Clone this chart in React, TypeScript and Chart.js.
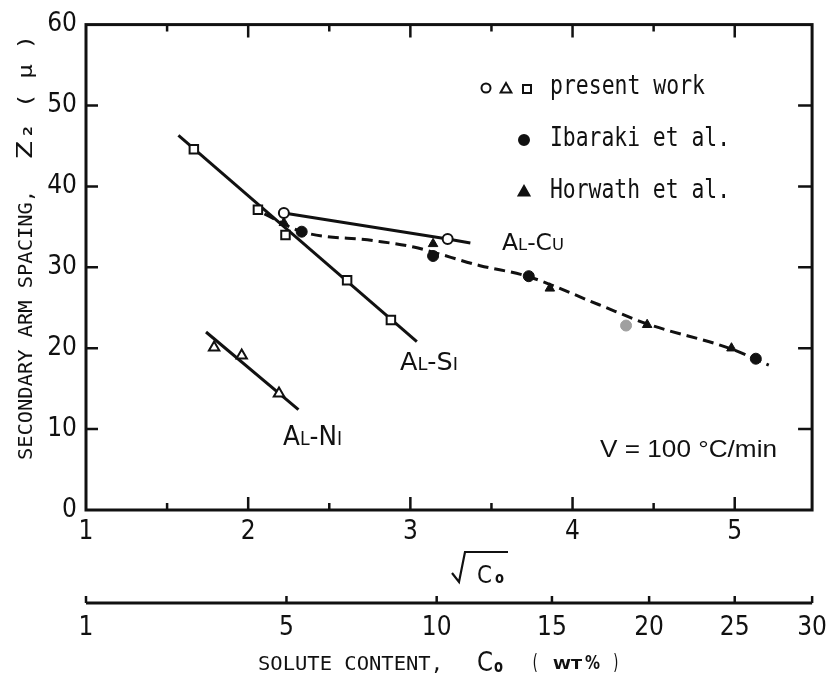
import React, { useEffect, useRef } from "react";
import { Chart, registerables } from "chart.js";
Chart.register(...registerables);

const NARROW = '"Liberation Sans Narrow", "DejaVu Sans Condensed", "Arial Narrow", sans-serif';
const MONO = '"DejaVu Sans Mono", "Liberation Mono", monospace';
const SANS = '"Liberation Sans", Arial, sans-serif';
const INK = "#111111";

// ---- axis ticks ----
const xLabelTicks = [1, 2, 3, 4, 5];
const xMinorTicks = [1.5, 2.5, 3.5, 4.5];
const yTicks = [0, 10, 20, 30, 40, 50, 60];
const c0Ticks = [1, 5, 10, 15, 20, 25, 30];
const X_MIN = 1;
const X_MAX = 5.477; // sqrt(30)

// ---- present work ----
const alSiX = [1.665, 2.06, 2.23, 2.61, 2.88];
const alSiY = [44.6, 37.1, 34.0, 28.4, 23.5];
const alSiLineX = [1.57, 3.04];
const alSiLineY = [46.3, 20.8];

const alCuX = [2.22, 3.23];
const alCuY = [36.7, 33.5];
const alCuLineX = [2.22, 3.23, 3.37];
const alCuLineY = [36.7, 33.5, 33.0];

const alNiX = [1.79, 1.96, 2.19];
const alNiY = [20.1, 19.1, 14.4];
const alNiLineX = [1.74, 2.31];
const alNiLineY = [22.0, 12.4];

// ---- literature ----
const ibarakiX = [2.33, 3.14, 3.73, 4.33, 5.13];
const ibarakiY = [34.4, 31.4, 28.9, 22.8, 18.7];
const ibarakiShade = ["#111111", "#111111", "#111111", "#a0a0a0", "#111111"];
const horwathX = [2.22, 3.14, 3.86, 4.46, 4.98];
const horwathY = [35.5, 32.9, 27.4, 22.9, 20.0];
const litLineX = [2.1, 2.33, 2.77, 3.02, 3.43, 3.72, 4.16, 4.46, 4.98, 5.21];
const litLineY = [36.6, 34.4, 33.3, 32.5, 30.2, 28.9, 25.4, 23.0, 19.9, 17.9];

function pts(xs: number[], ys: number[]) {
  return xs.map((x, i) => ({ x, y: ys[i] }));
}

type Seg = { t: string; s: number; dy?: number };

function drawSegs(ctx: CanvasRenderingContext2D, segs: Seg[], family: string, size: number, x: number, y: number, width: number, weight = "normal") {
  ctx.save();
  ctx.textBaseline = "alphabetic";
  ctx.textAlign = "left";
  let total = 0;
  const ws: number[] = [];
  for (const g of segs) {
    ctx.font = `${weight} ${size * g.s}px ${family}`;
    const w = ctx.measureText(g.t).width;
    ws.push(w);
    total += w;
  }
  const sx = width / total;
  ctx.translate(x, y);
  ctx.scale(sx, 1);
  let cx = 0;
  segs.forEach((g, i) => {
    ctx.font = `${weight} ${size * g.s}px ${family}`;
    ctx.fillText(g.t, cx, g.dy || 0);
    cx += ws[i];
  });
  ctx.restore();
}

function drawFit(ctx: CanvasRenderingContext2D, text: string, x: number, y: number, font: string, width: number) {
  ctx.save();
  ctx.font = font;
  ctx.textBaseline = "alphabetic";
  ctx.textAlign = "left";
  const w = ctx.measureText(text).width;
  ctx.translate(x, y);
  ctx.scale(width / w, 1);
  ctx.fillText(text, 0, 0);
  ctx.restore();
}

function marker(ctx: CanvasRenderingContext2D, kind: string, x: number, y: number, r: number, filled: boolean) {
  ctx.save();
  ctx.lineWidth = 2;
  ctx.strokeStyle = INK;
  ctx.fillStyle = filled ? INK : "#ffffff";
  ctx.beginPath();
  if (kind === "circle") {
    ctx.arc(x, y, r, 0, Math.PI * 2);
  } else if (kind === "triangle") {
    ctx.moveTo(x, y - r);
    ctx.lineTo(x + r * 0.9, y + r * 0.6);
    ctx.lineTo(x - r * 0.9, y + r * 0.6);
    ctx.closePath();
  } else {
    ctx.rect(x - r, y - r, 2 * r, 2 * r);
  }
  ctx.fill();
  ctx.stroke();
  ctx.restore();
}

const decorations = {
  id: "decorations",
  afterDraw(chart: any) {
    const { ctx, chartArea: a, scales } = chart;
    const xs = scales.x;
    const ys = scales.y;
    const cs = scales.c0;
    ctx.save();
    ctx.strokeStyle = INK;
    ctx.fillStyle = INK;
    ctx.lineCap = "butt";

    // frame
    ctx.lineWidth = 3;
    ctx.strokeRect(a.left, a.top, a.right - a.left, a.bottom - a.top);

    // inward ticks
    ctx.lineWidth = 2.5;
    ctx.beginPath();
    for (const v of xLabelTicks) {
      const px = xs.getPixelForValue(v);
      if (Math.abs(px - a.left) < 2) continue;
      ctx.moveTo(px, a.bottom); ctx.lineTo(px, a.bottom - 13);
      ctx.moveTo(px, a.top); ctx.lineTo(px, a.top + 13);
    }
    for (const v of xMinorTicks) {
      const px = xs.getPixelForValue(v);
      ctx.moveTo(px, a.bottom); ctx.lineTo(px, a.bottom - 7);
      ctx.moveTo(px, a.top); ctx.lineTo(px, a.top + 7);
    }
    for (const v of yTicks) {
      if (v === 0 || v === 60) continue;
      const py = ys.getPixelForValue(v);
      ctx.moveTo(a.left, py); ctx.lineTo(a.left + 12, py);
      ctx.moveTo(a.right, py); ctx.lineTo(a.right - 14, py);
    }
    ctx.stroke();

    // C0 axis
    const cy = cs.top;
    ctx.lineWidth = 3;
    ctx.beginPath();
    ctx.moveTo(cs.getPixelForValue(Math.sqrt(c0Ticks[0])), cy);
    ctx.lineTo(cs.getPixelForValue(Math.sqrt(c0Ticks[c0Ticks.length - 1])), cy);
    ctx.stroke();
    ctx.lineWidth = 2.5;
    ctx.beginPath();
    for (const c of c0Ticks) {
      const px = cs.getPixelForValue(Math.sqrt(c));
      ctx.moveTo(px, cy); ctx.lineTo(px, cy - 7);
    }
    ctx.stroke();

    // sqrt(C0) title
    ctx.lineWidth = 2.2;
    ctx.beginPath();
    ctx.moveTo(452, 573);
    ctx.lineTo(459, 582);
    ctx.lineTo(465, 552);
    ctx.lineTo(508, 552);
    ctx.stroke();
    drawFit(ctx, "C", 477, 583, `normal 24px ${NARROW}`, 15);
    drawFit(ctx, "o", 495, 583, `bold 16px ${NARROW}`, 9);

    // bottom title
    drawFit(ctx, "SOLUTE CONTENT,", 258, 670, `normal 20px ${MONO}`, 185);
    drawFit(ctx, "C", 477, 671, `normal 27px ${NARROW}`, 16);
    drawFit(ctx, "o", 494, 672, `bold 17px ${NARROW}`, 9);
    drawFit(ctx, "(", 531, 669, `normal 22px ${MONO}`, 8);
    drawFit(ctx, "WT", 553, 669, `bold 14px ${NARROW}`, 29);
    drawFit(ctx, "%", 585, 669, `bold 20px ${NARROW}`, 15);
    drawFit(ctx, ")", 612, 669, `normal 22px ${MONO}`, 8);

    // y title (rotated)
    ctx.save();
    ctx.translate(32, 460);
    ctx.rotate(-Math.PI / 2);
    drawFit(ctx, "SECONDARY ARM SPACING,", 0, 0, `normal 20px ${MONO}`, 270);
    drawFit(ctx, "Z", 300, 0, `normal 22px ${MONO}`, 19);
    drawFit(ctx, "2", 324, 0, `bold 13px ${MONO}`, 10);
    drawFit(ctx, "( μ )", 352, 0, `normal 20px ${MONO}`, 73);
    ctx.restore();

    // legend
    marker(ctx, "circle", 486, 88, 4.5, false);
    marker(ctx, "triangle", 506, 89, 6, false);
    marker(ctx, "rect", 527, 89, 4, false);
    marker(ctx, "circle", 524, 140, 5, true);
    marker(ctx, "triangle", 524, 192, 6, true);
    drawFit(ctx, "present work", 550, 94, `normal 26px ${MONO}`, 155);
    drawFit(ctx, "Ibaraki et al.", 550, 146, `normal 26px ${MONO}`, 180);
    drawFit(ctx, "Horwath et al.", 550, 198, `normal 26px ${MONO}`, 180);

    // alloy labels
    drawSegs(ctx, [{ t: "A", s: 1 }, { t: "L", s: 0.7 }, { t: "-", s: 1 }, { t: "C", s: 1 }, { t: "U", s: 0.7 }], NARROW, 23, 502, 250, 62);
    drawSegs(ctx, [{ t: "A", s: 1 }, { t: "L", s: 0.7 }, { t: "-", s: 1 }, { t: "S", s: 1 }, { t: "I", s: 0.7 }], NARROW, 25, 400, 370, 58);
    drawSegs(ctx, [{ t: "A", s: 1 }, { t: "L", s: 0.7 }, { t: "-", s: 1 }, { t: "N", s: 1 }, { t: "I", s: 0.7 }], NARROW, 27, 283, 445, 59);

    // velocity note
    drawFit(ctx, "V = 100 °C/min", 600, 457, `normal 24px ${SANS}`, 177);

    ctx.restore();
  },
};

export default function App() {
  const ref = useRef<HTMLCanvasElement | null>(null);
  useEffect(() => {
    document.body.style.margin = "0";
    const canvas = ref.current!;
    const lineDs = (xs: number[], ys: number[], dash: number[] = [], smooth = false) => ({
      data: pts(xs, ys),
      showLine: true,
      borderColor: INK,
      borderWidth: 3,
      borderDash: dash,
      pointRadius: 0,
      fill: false,
      tension: smooth ? 0.4 : 0,
      cubicInterpolationMode: smooth ? "monotone" : "default",
      order: 5,
    });
    const tickFont = { family: NARROW, size: 26 };
    const chart = new Chart(canvas, {
      type: "scatter",
      data: {
        datasets: [
          lineDs(alSiLineX, alSiLineY),
          lineDs(alCuLineX, alCuLineY),
          lineDs(alNiLineX, alNiLineY),
          lineDs(litLineX, litLineY, [11, 6], true),
          {
            data: pts(alSiX, alSiY), pointStyle: "rect", pointRadius: 6, borderWidth: 2,
            borderColor: INK, backgroundColor: "#ffffff", order: 1,
          },
          {
            data: pts(alCuX, alCuY), pointStyle: "circle", pointRadius: 5, borderWidth: 2,
            borderColor: INK, backgroundColor: "#ffffff", order: 1,
          },
          {
            data: pts(alNiX, alNiY), pointStyle: "triangle", pointRadius: 6, borderWidth: 2,
            borderColor: INK, backgroundColor: "#ffffff", order: 1,
          },
          {
            data: pts(ibarakiX, ibarakiY), pointStyle: "circle", pointRadius: 5.5, borderWidth: 1,
            borderColor: ibarakiShade, backgroundColor: ibarakiShade, order: 1,
          },
          {
            data: pts(horwathX, horwathY), pointStyle: "triangle", pointRadius: 5.5, borderWidth: 1,
            borderColor: INK, backgroundColor: INK, order: 1,
          },
        ] as any,
      },
      options: {
        animation: false,
        responsive: false,
        devicePixelRatio: 1,
        layout: { padding: { left: 0, top: 18, right: 12, bottom: 0 } },
        plugins: { legend: { display: false }, tooltip: { enabled: false } },
        scales: {
          x: {
            type: "linear", position: "bottom", weight: 0, min: X_MIN, max: X_MAX,
            afterBuildTicks: (s: any) => { s.ticks = xLabelTicks.map((v) => ({ value: v })); },
            afterFit: (s: any) => { s.height = 93; },
            grid: { display: false, drawTicks: false },
            border: { display: false },
            ticks: {
              autoSkip: false, maxRotation: 0, padding: 7, color: INK,
              font: tickFont,
              callback: (v: any) => String(v),
            },
          },
          c0: {
            type: "linear", axis: "x", position: "bottom", weight: 1, min: X_MIN, max: X_MAX,
            afterBuildTicks: (s: any) => { s.ticks = c0Ticks.map((c) => ({ value: Math.sqrt(c) })); },
            afterFit: (s: any) => { s.height = 75; },
            grid: { display: false, drawTicks: false },
            border: { display: false },
            ticks: {
              autoSkip: false, maxRotation: 0, padding: 10, color: INK,
              font: tickFont,
              callback: (v: any) => String(Math.round(v * v)),
            },
          },
          y: {
            type: "linear", position: "left", min: 0, max: 60,
            afterBuildTicks: (s: any) => { s.ticks = yTicks.map((v) => ({ value: v })); },
            afterFit: (s: any) => { s.width = 86; },
            grid: { display: false, drawTicks: false },
            border: { display: false },
            ticks: {
              padding: 9, color: INK,
              font: tickFont,
            },
          },
        },
      } as any,
      plugins: [decorations],
    });
    return () => chart.destroy();
  }, []);
  return (
    <div style={{ width: 837, height: 678, background: "#ffffff" }}>
      <canvas ref={ref} width={837} height={678} />
    </div>
  );
}
